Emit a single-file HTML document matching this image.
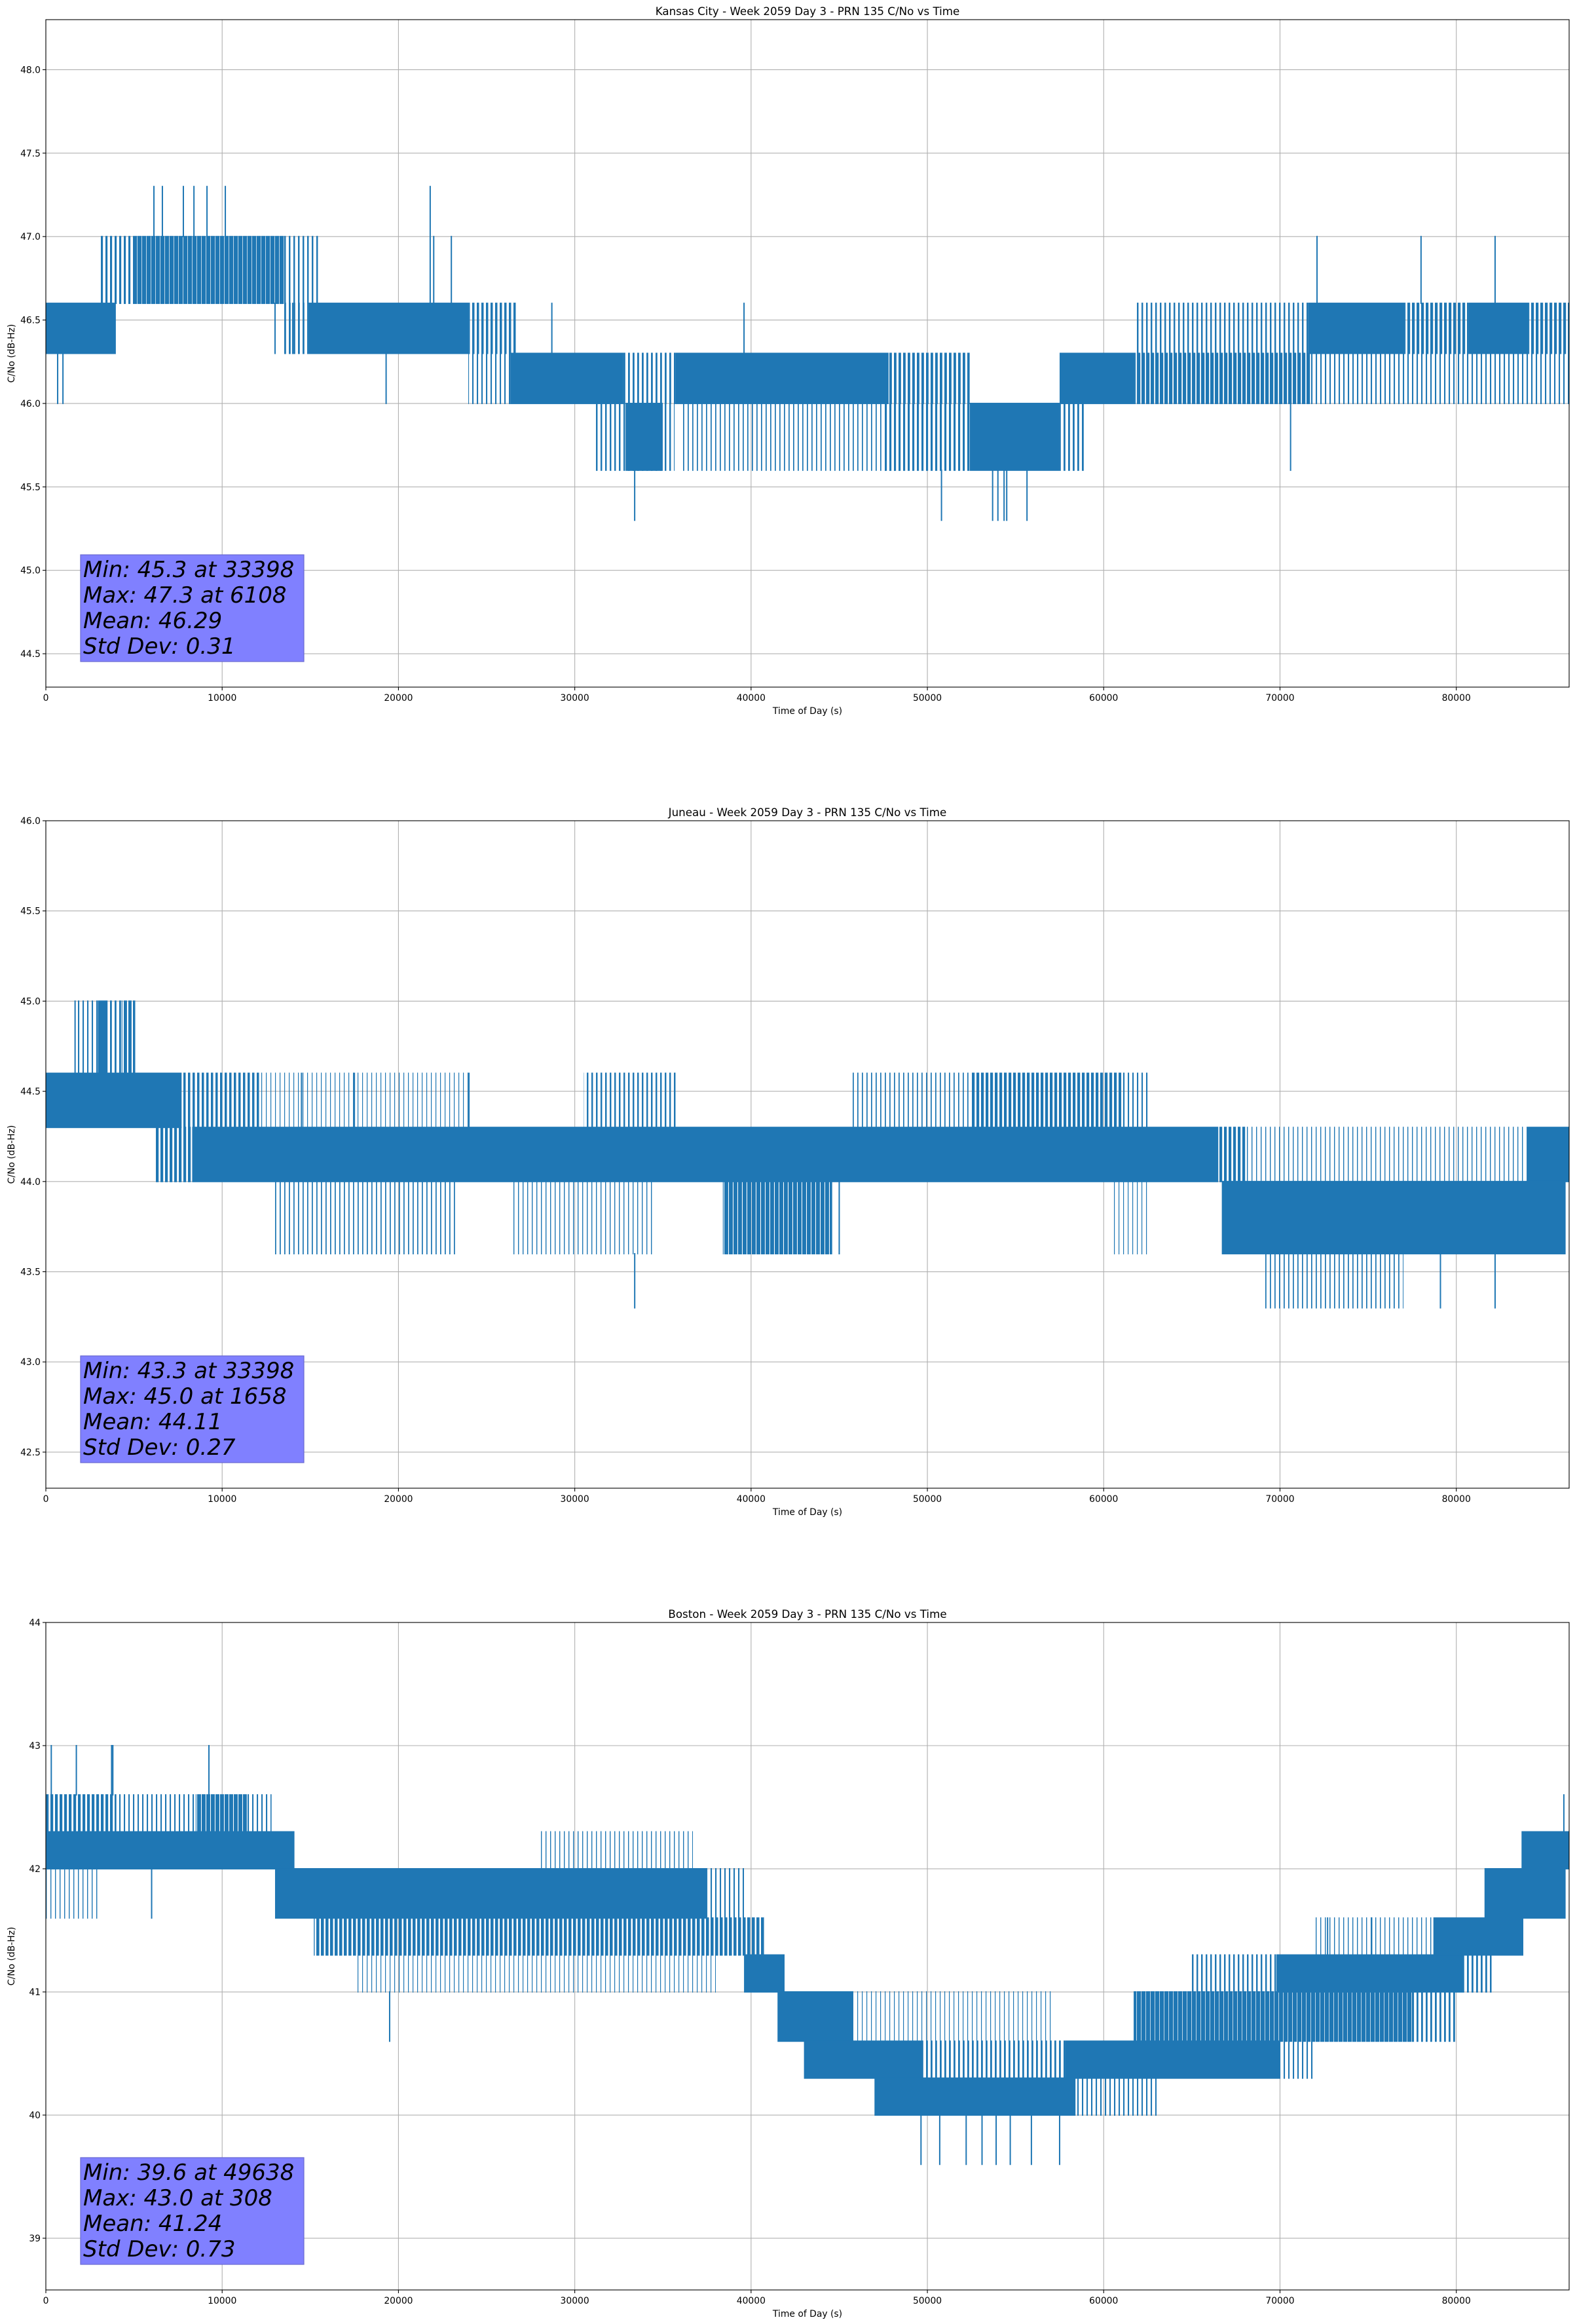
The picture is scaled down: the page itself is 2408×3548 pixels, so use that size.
<!DOCTYPE html>
<html><head><meta charset="utf-8"><title>PRN 135 C/No vs Time</title>
<style>
html,body{margin:0;padding:0;background:#fff;}
svg{display:block;font-family:"DejaVu Sans","Liberation Sans",sans-serif;}
</style></head>
<body>
<svg id="fig" xmlns="http://www.w3.org/2000/svg" width="2408" height="3548" viewBox="0 0 2408 3548"><defs id="defs"></defs></svg>
<script>
// ---------- shared axis data ----------
const xTicks = [0,10000,20000,30000,40000,50000,60000,70000,80000];
const xMax = 86400;

// ---------- Kansas City ----------
const kcTitle = "Kansas City - Week 2059 Day 3 - PRN 135 C/No vs Time";
const kcYTicks = [44.5,45.0,45.5,46.0,46.5,47.0,47.5,48.0];
const kcYRange = [44.3,48.3];
const kcStats = ["Min: 45.3 at 33398","Max: 47.3 at 6108","Mean: 46.29","Std Dev: 0.31"];
const kcBandStart = [0,3120,4940,13520,13520,14860,23960,23960,26340,32760,31200,32880,35700,36000,47800,47500,52400,57500,57500,61800,61800,71600,77100,80700,84100,71800];
const kcBandEnd   = [3970,4940,13520,15560,14860,23960,26750,26340,32760,35700,35660,34990,47800,48600,52400,52400,57500,59000,61800,71800,71600,77100,80700,84100,86400,86400];
const kcBandLow   = [46.3,46.6,46.6,46.6,46.3,46.3,46.3,46.0,46.0,46.0,45.6,45.6,46.0,45.6,46.0,45.6,45.6,45.6,46.0,46.0,46.3,46.3,46.3,46.3,46.3,46.0];
const kcBandHigh  = [46.6,47.0,47.0,47.0,46.6,46.6,46.6,46.3,46.3,46.3,46.0,46.0,46.3,46.0,46.3,46.0,46.0,46.0,46.3,46.3,46.6,46.6,46.6,46.6,46.6,46.3];
const kcBandDensity = [1,0.45,0.9,0.35,0.4,1,0.5,0.3,1,0.4,0.35,1,1,0.25,0.55,0.45,1,0.4,1,0.75,0.35,1,0.6,1,0.6,0.3];
const kcSpikeT  = [6130,6610,7800,8400,9140,10180,21800,22000,23000,670,970,19300,28700,39600,33398,50800,53700,54000,54350,54500,55650,72100,78000,82200,70600,13000,14000];
const kcSpikeLo = [47.0,47.0,47.0,47.0,47.0,47.0,46.6,46.6,46.6,46.0,46.0,46.0,46.3,46.3,45.3,45.3,45.3,45.3,45.3,45.3,45.3,46.6,46.6,46.6,45.6,46.3,46.3];
const kcSpikeHi = [47.3,47.3,47.3,47.3,47.3,47.3,47.3,47.0,47.0,46.3,46.3,46.3,46.6,46.6,45.6,45.6,45.6,45.6,45.6,45.6,45.6,47.0,47.0,47.0,46.0,46.6,46.6];

// ---------- Juneau ----------
const juTitle = "Juneau - Week 2059 Day 3 - PRN 135 C/No vs Time";
const juYTicks = [42.5,43.0,43.5,44.0,44.5,45.0,45.5,46.0];
const juYRange = [42.3,46.0];
const juStats = ["Min: 43.3 at 33398","Max: 45.0 at 1658","Mean: 44.11","Std Dev: 0.27"];
const juBandStart = [0,7700,12100,1700,2950,3500,4300,6200,8300,66500,68100,84000,30500,45700,52500,61000,12900,26500,38400,60500,66700,69000];
const juBandEnd   = [7700,12100,24000,2950,3500,4300,5070,8300,66500,68100,84000,86400,35800,52500,61000,62500,23300,34500,44600,62500,86200,77000];
const juBandLow   = [44.3,44.3,44.3,44.6,44.6,44.6,44.6,44.0,44.0,44.0,44.0,44.0,44.3,44.3,44.3,44.3,43.6,43.6,43.6,43.6,43.6,43.3];
const juBandHigh  = [44.6,44.6,44.6,45.0,45.0,45.0,45.0,44.3,44.3,44.3,44.3,44.3,44.6,44.6,44.6,44.6,44.0,44.0,44.0,44.0,44.0,43.6];
const juBandDensity = [1,0.5,0.12,0.3,1,0.4,0.7,0.6,1,0.6,0.2,1,0.35,0.25,0.6,0.3,0.25,0.2,0.85,0.15,1,0.25];
const juSpikeT  = [33400,79100,82200,24000,1658,14500,17500,45000];
const juSpikeLo = [43.3,43.3,43.3,44.3,44.6,44.3,44.3,43.6];
const juSpikeHi = [43.6,43.6,43.6,44.6,45.0,44.6,44.6,44.0];

// ---------- Boston ----------
const boTitle = "Boston - Week 2059 Day 3 - PRN 135 C/No vs Time";
const boYTicks = [39,40,41,42,43,44];
const boYRange = [38.58,44.0];
const boStats = ["Min: 39.6 at 49638","Max: 43.0 at 308","Mean: 41.24","Std Dev: 0.73"];
const boBandStart = [0,0,4000,8500,11400,0,13000,37500,28000,15200,17500,39600,41500,43000,49700,57800,70000,47000,58400,46000,61700,77600,65000,69800,80400,72000,78700,81600,83700];
const boBandEnd   = [14100,4000,8500,11400,12800,3000,37500,39600,36700,40800,38000,41900,45800,49700,57800,70000,72000,58400,63000,57000,77600,80000,69800,80400,82000,78700,83800,86200,86400];
const boBandLow   = [42.0,42.3,42.3,42.3,42.3,41.6,41.6,41.6,42.0,41.3,41.0,41.0,40.6,40.3,40.3,40.3,40.3,40.0,40.0,40.6,40.6,40.6,41.0,41.0,41.0,41.3,41.3,41.6,42.0];
const boBandHigh  = [42.3,42.6,42.6,42.6,42.6,42.0,42.0,42.0,42.3,41.6,41.3,41.3,41.0,40.6,40.6,40.6,40.6,40.3,40.3,41.0,41.0,41.0,41.3,41.3,41.3,41.6,41.6,42.0,42.3];
const boBandDensity = [1,0.6,0.3,0.85,0.3,0.2,1,0.3,0.2,0.65,0.15,1,1,1,0.4,1,0.3,1,0.3,0.15,0.9,0.4,0.35,1,0.4,0.2,1,1,1];
const boSpikeT  = [308,1730,3730,3800,9250,86100,19500,72700,75200,49638,50700,52200,53100,53900,54700,55900,57500,6000];
const boSpikeLo = [42.6,42.6,42.6,42.6,42.6,42.3,40.6,41.3,41.3,39.6,39.6,39.6,39.6,39.6,39.6,39.6,39.6,41.6];
const boSpikeHi = [43.0,43.0,43.0,43.0,43.0,42.6,41.0,41.6,41.6,40.0,40.0,40.0,40.0,40.0,40.0,40.0,40.0,42.0];

const NS = "http://www.w3.org/2000/svg";
const svg = document.getElementById('fig');
const defs = document.getElementById('defs');
const BLUE = "#1f77b4";
function mk(tag, attrs, parent){
  const e = document.createElementNS(NS, tag);
  for (const k in attrs) e.setAttribute(k, attrs[k]);
  (parent||svg).appendChild(e);
  return e;
}
// vertical-stripe texture imitating a dense line trace
const patCache = {};
function stripeFill(d){
  if (d >= 0.95) return BLUE;
  const key = Math.round(d * 20);
  const id = 'stripe-' + key;
  if (!patCache[id]){
    const period = 7;
    const p = mk('pattern', {id:id, patternUnits:'userSpaceOnUse', width:period, height:10}, defs);
    mk('rect', {x:0, y:0, width:Math.max(1.2, (key/20) * period), height:10, fill:BLUE}, p);
    patCache[id] = true;
  }
  return 'url(#' + id + ')';
}

function drawChart(prefix, top, title, yTicks, yRange, stats, bS, bE, bL, bH, bD, sT, sL, sH, yFmt){
  const L = 70, R = 2396, H = 1019, B = top + H;
  const xs = t => L + (t / xMax) * (R - L);
  const ys = v => B - (v - yRange[0]) / (yRange[1] - yRange[0]) * H;
  const g = mk('g', {});
  
  

  xTicks.forEach(t => {
    const ln = mk('line', {x1:xs(t), x2:xs(t), y1:top, y2:B, stroke:'#b0b0b0', 'stroke-width':1.1}, g);
    
    
  });
  yTicks.forEach(v => {
    const ln = mk('line', {x1:L, x2:R, y1:ys(v), y2:ys(v), stroke:'#b0b0b0', 'stroke-width':1.1}, g);
    
    
  });

  const cp = mk('clipPath', {id: prefix + '-clip'}, g);
  mk('rect', {x:L, y:top, width:R-L, height:H}, cp);
  const series = mk('g', {'clip-path':'url(#' + prefix + '-clip)'}, g);
  
  

  for (let i = 0; i < bS.length; i++){
    const x0 = xs(bS[i]), x1 = xs(bE[i]);
    const y0 = ys(bH[i]) - 1, y1 = ys(bL[i]) + 1;
    const r = mk('rect', {x:x0, y:y0, width:Math.max(1, x1-x0), height:y1-y0, fill:stripeFill(bD[i])}, series);
    
    
  }
  for (let i = 0; i < sT.length; i++){
    const x = xs(sT[i]);
    const ln = mk('line', {x1:x, x2:x, y1:ys(sH[i]) - 1, y2:ys(sL[i]) + 1, stroke:BLUE, 'stroke-width':2}, series);
    
    
  }

  const fr = mk('rect', {x:L, y:top, width:R-L, height:H, fill:'none', stroke:'#000', 'stroke-width':1.1}, g);
  
  

  xTicks.forEach(t => {
    mk('line', {x1:xs(t), x2:xs(t), y1:B, y2:B+5, stroke:'#000', 'stroke-width':1.1}, g);
    const tx = mk('text', {x:xs(t), y:B+21, 'font-size':13.9, 'text-anchor':'middle', fill:'#000'}, g);
    tx.textContent = String(t);
    
    
  });
  yTicks.forEach(v => {
    mk('line', {x1:L-5, x2:L, y1:ys(v), y2:ys(v), stroke:'#000', 'stroke-width':1.1}, g);
    const tx = mk('text', {x:L-8, y:ys(v)+5, 'font-size':13.9, 'text-anchor':'end', fill:'#000'}, g);
    tx.textContent = yFmt(v);
    
    
  });

  const tt = mk('text', {x:(L+R)/2, y:top-7, 'font-size':16.7, 'text-anchor':'middle', fill:'#000'}, g);
  tt.textContent = title;
  
  

  const xl = mk('text', {x:(L+R)/2, y:B+41, 'font-size':13.9, 'text-anchor':'middle', fill:'#000'}, g);
  xl.textContent = "Time of Day (s)";
  
  

  const cy = (top + B) / 2;
  const yl = mk('text', {x:22, y:cy, 'font-size':13.9, 'text-anchor':'middle', fill:'#000', transform:'rotate(-90 22 ' + cy + ')'}, g);
  yl.textContent = "C/No (dB-Hz)";
  
  

  const boxTop = B - 202;
  const sb = mk('rect', {x:123, y:boxTop, width:341, height:163, fill:'#8080ff', stroke:'#6a6ad0', 'stroke-width':1.2}, g);
  
  
  stats.forEach((s, i) => {
    const tx = mk('text', {x:127, y:boxTop + 34 + i*39, 'font-size':34, 'font-style':'italic', fill:'#000'}, g);
    tx.textContent = s;
    
    
  });
}

drawChart('kansas-city', 30, kcTitle, kcYTicks, kcYRange, kcStats, kcBandStart, kcBandEnd, kcBandLow, kcBandHigh, kcBandDensity, kcSpikeT, kcSpikeLo, kcSpikeHi, v => v.toFixed(1));
drawChart('juneau', 1253, juTitle, juYTicks, juYRange, juStats, juBandStart, juBandEnd, juBandLow, juBandHigh, juBandDensity, juSpikeT, juSpikeLo, juSpikeHi, v => v.toFixed(1));
drawChart('boston', 2477, boTitle, boYTicks, boYRange, boStats, boBandStart, boBandEnd, boBandLow, boBandHigh, boBandDensity, boSpikeT, boSpikeLo, boSpikeHi, v => String(v));
</script>
</body></html>
